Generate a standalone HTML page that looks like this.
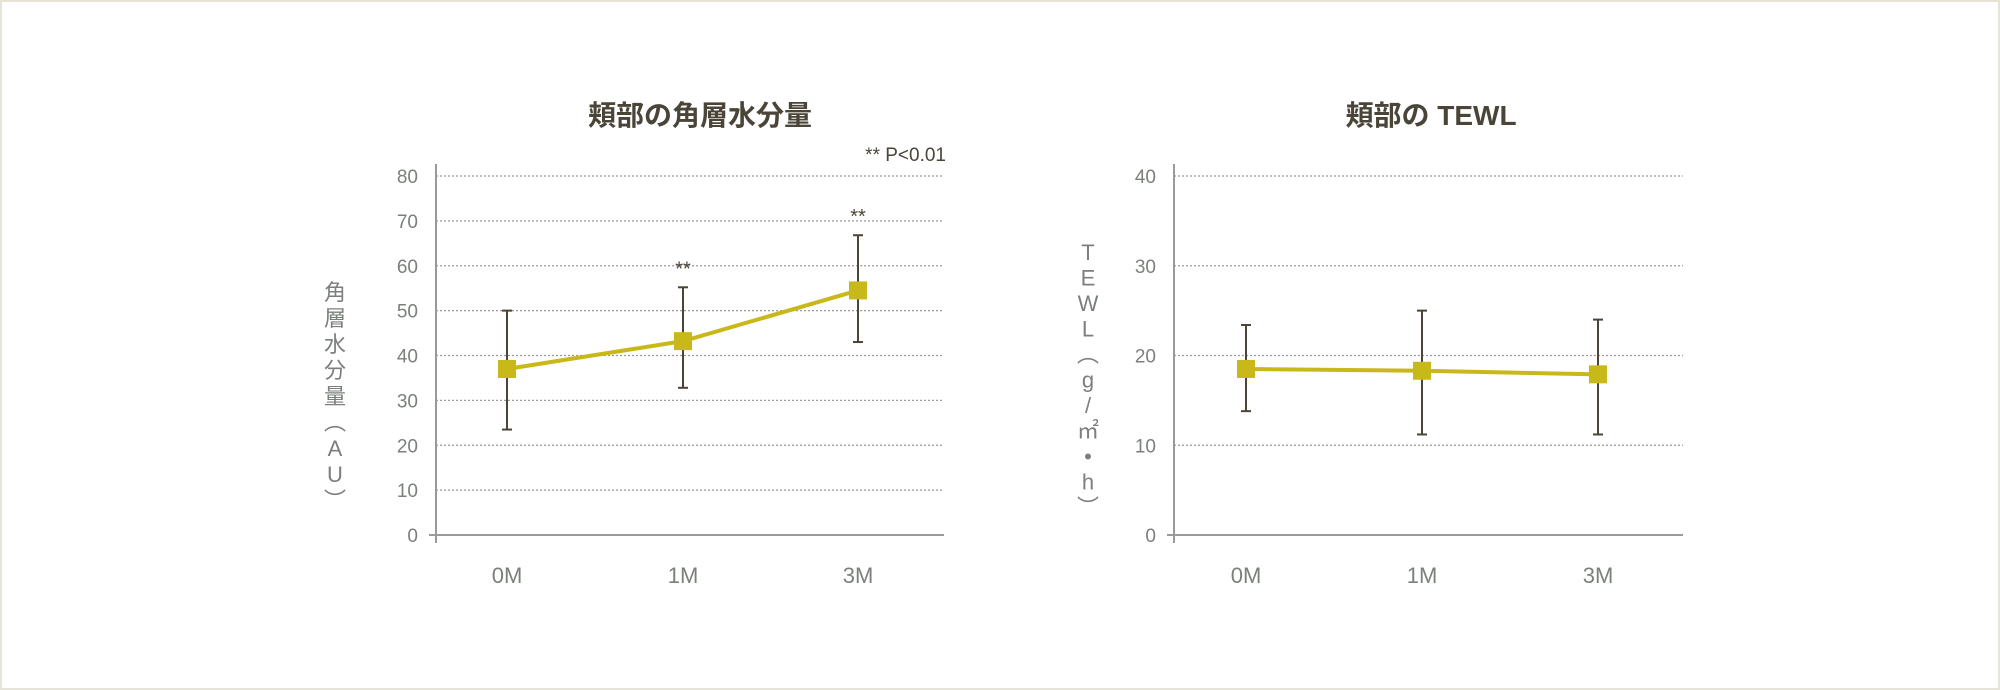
<!DOCTYPE html>
<html><head><meta charset="utf-8">
<style>
html,body{margin:0;padding:0;background:#fff;}
#wrap{position:relative;width:2000px;height:690px;box-sizing:border-box;border:2px solid #e6e4d8;background:#fff;overflow:hidden;}
svg{position:absolute;left:0;top:0;}
text{font-family:"Liberation Sans","Noto Sans CJK JP",sans-serif;}
</style></head>
<body>
<div id="wrap">
<svg id="svg" width="2000" height="690" viewBox="0 0 2000 690"></svg>
</div>
<script>
const categories = ["0M","1M","3M"];
const moistureValues = [37, 43.2, 54.5];
const moistureLow = [23.5, 32.8, 43];
const moistureHigh = [50, 55.2, 66.8];
const moistureTicks = [0,10,20,30,40,50,60,70,80];
const moistureSig = ["", "**", "**"];
const tewlValues = [18.5, 18.3, 17.9];
const tewlLow = [13.8, 11.2, 11.2];
const tewlHigh = [23.4, 25, 24];
const tewlTicks = [0,10,20,30,40];

const NS = "http://www.w3.org/2000/svg";
const svg = document.getElementById('svg');
function mk(tag, attrs, parent){
  const e = document.createElementNS(NS, tag);
  for (const k in attrs) e.setAttribute(k, attrs[k]);
  (parent||svg).appendChild(e);
  return e;
}
function drawChart(cfg){
  const g = mk('g', {});
  
  
  const y = v => cfg.y0 - (v - 0) / cfg.max * (cfg.y0 - cfg.yTop);
  const x = i => cfg.xs[i];
  // title
  const t = mk('text', {x: cfg.titleX, y: 123, 'text-anchor':'middle', 'font-size':28, 'font-weight':'bold', fill:'#4a4538'}, g);
  t.textContent = cfg.title;
  
  
  // grid + ticks
  cfg.ticks.forEach(v => {
    if (v > 0) {
      const gl = mk('line', {x1: cfg.axisX, x2: cfg.right, y1: y(v), y2: y(v), stroke:'#9a9a9a', 'stroke-width':1.3, 'stroke-dasharray':'2 2'}, g);
      
      
    }
    const tl = mk('text', {x: cfg.axisX - 18, y: y(v) + 7, 'text-anchor':'end', 'font-size':19, fill:'#7b807b'}, g);
    tl.textContent = v;
    
    
  });
  // axes
  const ya = mk('line', {x1: cfg.axisX, x2: cfg.axisX, y1: 162, y2: cfg.y0 + 8, stroke:'#9a9a9a', 'stroke-width':2}, g);
  
  
  const xa = mk('line', {x1: cfg.axisX - 7, x2: cfg.right, y1: cfg.y0, y2: cfg.y0, stroke:'#9a9a9a', 'stroke-width':2}, g);
  
  
  // x labels
  categories.forEach((c, i) => {
    const xl = mk('text', {x: x(i), y: 581, 'text-anchor':'middle', 'font-size':22, fill:'#7b807b'}, g);
    xl.textContent = c;
    
    
  });
  // y axis title (vertical stacked)
  cfg.yTitle.forEach((ch, i) => {
    const yt = mk('text', {x: cfg.yTitleX, y: cfg.yTitleY + i * cfg.yTitleStep, 'text-anchor':'middle', 'font-size':22, fill:'#7b807b'}, g);
    yt.textContent = ch;
    
    
  });
  // error bars
  cfg.values.forEach((v, i) => {
    const eb = mk('g', {stroke:'#4a4538', 'stroke-width':2}, g);
    
    
    mk('line', {x1:x(i), x2:x(i), y1:y(cfg.low[i]), y2:y(cfg.high[i])}, eb);
    mk('line', {x1:x(i)-5, x2:x(i)+5, y1:y(cfg.low[i]), y2:y(cfg.low[i])}, eb);
    mk('line', {x1:x(i)-5, x2:x(i)+5, y1:y(cfg.high[i]), y2:y(cfg.high[i])}, eb);
  });
  // line
  const pts = cfg.values.map((v, i) => x(i) + ',' + y(v)).join(' ');
  const pl = mk('polyline', {points: pts, fill:'none', stroke:'#c9b81a', 'stroke-width':4}, g);
  
  
  cfg.values.forEach((v, i) => {
    const m = mk('rect', {x: x(i)-9, y: y(v)-9, width:18, height:18, fill:'#c9b81a'}, g);
    
    
  });
  if (cfg.sig) cfg.sig.forEach((s, i) => {
    if (!s) return;
    const st = mk('text', {x: x(i), y: y(cfg.high[i]) - 12, 'text-anchor':'middle', 'font-size':20, fill:'#4a4538'}, g);
    st.textContent = s;
    
    
  });
}
drawChart({name:'moisture-chart', title:'頬部の角層水分量', titleX:698, axisX:434, right:942, y0:533, yTop:174, max:80,
  xs:[505,681,856], ticks:moistureTicks, values:moistureValues, low:moistureLow, high:moistureHigh, sig:moistureSig,
  yTitle:['角','層','水','分','量','︵','A','U','︶'], yTitleX:333, yTitleY:298, yTitleStep:26});
drawChart({name:'tewl-chart', title:'頬部の TEWL', titleX:1429, axisX:1172, right:1681, y0:533, yTop:174, max:40,
  xs:[1244,1420,1596], ticks:tewlTicks, values:tewlValues, low:tewlLow, high:tewlHigh, sig:null,
  yTitle:['T','E','W','L','︵','g','/','㎡','•','h','︶'], yTitleX:1086, yTitleY:258, yTitleStep:25.5});
const p = mk('text', {x:944, y:159, 'text-anchor':'end', 'font-size':19, fill:'#4a4538'});
p.textContent = '** P<0.01';


</script>
</body></html>
